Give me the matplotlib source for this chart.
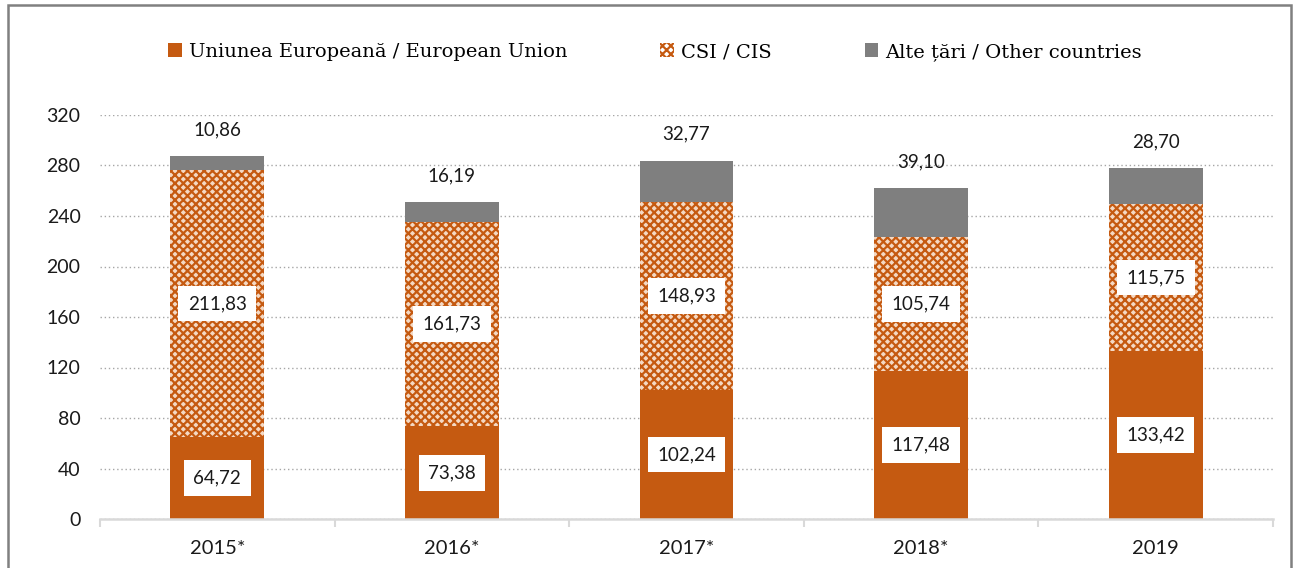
import matplotlib
matplotlib.use("Agg")
import matplotlib.pyplot as plt
import numpy as np
from matplotlib.patches import Rectangle

years = ["2015*", "2016*", "2017*", "2018*", "2019"]
eu = [64.72, 73.38, 102.24, 117.48, 133.42]
cis = [211.83, 161.73, 148.93, 105.74, 115.75]
other = [10.86, 16.19, 32.77, 39.10, 28.70]
eu_lbl = ["64,72", "73,38", "102,24", "117,48", "133,42"]
cis_lbl = ["211,83", "161,73", "148,93", "105,74", "115,75"]
other_lbl = ["10,86", "16,19", "32,77", "39,10", "28,70"]
yticks = [0, 40, 80, 120, 160, 200, 240, 280, 320]

ORANGE = "#C55A11"
GREY = "#7F7F7F"
SANS = ["Lato", "DejaVu Sans"]
SERIF = ["DejaVu Serif", "Liberation Serif"]
TXT = "#1a1a1a"

plt.rcParams["hatch.linewidth"] = 1.6

W, H = 1299, 568
fig = plt.figure(figsize=(W / 100, H / 100), dpi=100)
ax = fig.add_axes([100 / W, 1 - 519 / H, (1273 - 100) / W, (519 - 115) / H])

x = np.arange(len(years))
bw = 0.4
b1 = ax.bar(x, eu, bw, color=ORANGE, zorder=3, label="Uniunea Europeană / European Union")
ax.bar(x, cis, bw, bottom=eu, color="#F4D9C4", linewidth=0, zorder=3)
b2 = ax.bar(x, cis, bw, bottom=eu, facecolor="none", edgecolor=ORANGE, hatch="xxxx",
            linewidth=0, zorder=3, label="CSI / CIS")
bot2 = np.array(eu) + np.array(cis)
b3 = ax.bar(x, other, bw, bottom=bot2, color=GREY, zorder=3, label="Alte țări / Other countries")

box = dict(boxstyle="square,pad=0.5", facecolor="white", edgecolor="none")
for i in range(len(years)):
    ax.text(x[i], eu[i] / 2, eu_lbl[i], ha="center", va="center", fontsize=13.5,
            family=SANS, bbox=box, zorder=5, color=TXT)
    ax.text(x[i], eu[i] + cis[i] / 2, cis_lbl[i], ha="center", va="center", fontsize=13.5,
            family=SANS, bbox=box, zorder=5, color=TXT)
    ax.text(x[i], bot2[i] + other[i] + 14, other_lbl[i], ha="center", va="bottom",
            fontsize=13.5, family=SANS, color=TXT)

ax.set_xlim(-0.5, len(years) - 0.5)
ax.set_ylim(0, 320)
ax.set_yticks(yticks)
ax.set_yticklabels([str(v) for v in yticks], family=SANS, fontsize=14, color=TXT)
ax.tick_params(axis="y", length=0, pad=14)
ax.set_xticks(x)
ax.set_xticklabels(years, family=SANS, fontsize=14.5, color=TXT)
ax.tick_params(axis="x", length=0, pad=15)
ax.set_xticks(np.arange(-0.5, len(years)), minor=True)
ax.tick_params(axis="x", which="minor", length=6, color="#D9D9D9", width=1.5)
ax.grid(axis="y", linestyle=(0, (1, 2)), color="#A6A6A6", linewidth=1, zorder=0)
for s in ["left", "right", "top"]:
    ax.spines[s].set_visible(False)
ax.spines["bottom"].set_color("#D9D9D9")
ax.spines["bottom"].set_linewidth(1.8)
ax.spines["bottom"].set_zorder(4)

leg = fig.legend(handles=[b1, b2, b3], loc="center", bbox_to_anchor=(655 / W, 1 - 52 / H),
                 ncol=3, frameon=False, prop={"family": SERIF, "size": 14},
                 handlelength=0.7, handleheight=0.7, handletextpad=0.35,
                 columnspacing=4.8)

fig.patches.append(Rectangle((8 / W, -0.1), (1291 - 8) / W, 1.1 - 5 / H,
                             transform=fig.transFigure, fill=False,
                             edgecolor="#808080", linewidth=1.8))

fig.savefig("out.png", dpi=100)
